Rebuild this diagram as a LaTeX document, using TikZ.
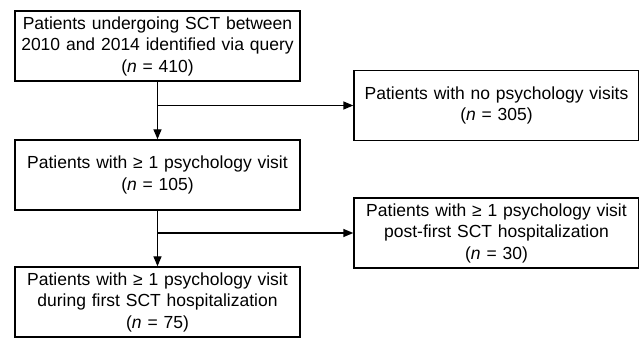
\documentclass[tikz,border=0pt]{standalone}
\usepackage{fontspec}
\setmainfont{Liberation Sans}
\usetikzlibrary{arrows.meta}

\begin{document}
\begin{tikzpicture}[x=1pt,y=1pt,line width=1.4pt,
  flowbox/.style={draw,align=center,text width=277pt,minimum width=285pt,
    minimum height=70pt,inner sep=4pt,font=\fontsize{17.5}{21.5}\selectfont},
  flowarrow/.style={-{Triangle[length=10pt,width=8pt]}}]
\useasboundingbox (0,0) rectangle (639,339);
\node[flowbox] (query) at (157.5,293) {Patients undergoing SCT between\\2010 and 2014 identified via query\\(\textit{n} = 410)};
\node[flowbox] (nopsy) at (496.5,233.5) {Patients with no psychology visits\\(\textit{n} = 305)};
\node[flowbox] (psy) at (157.5,164) {Patients with ≥ 1 psychology visit\\(\textit{n} = 105)};
\node[flowbox] (post) at (496.5,106) {Patients with ≥ 1 psychology visit\\post-first SCT hospitalization\\(\textit{n} = 30)};
\node[flowbox] (during) at (157.5,37) {Patients with ≥ 1 psychology visit\\during first SCT hospitalization\\(\textit{n} = 75)};
\coordinate (split1) at (query.south |- nopsy.west);
\coordinate (split2) at (psy.south |- post.west);
\draw[flowarrow](query)--(psy);
\draw[flowarrow](split1)--(nopsy);
\draw[flowarrow](psy)--(during);
\draw[flowarrow](split2)--(post);
\end{tikzpicture}
\end{document}
